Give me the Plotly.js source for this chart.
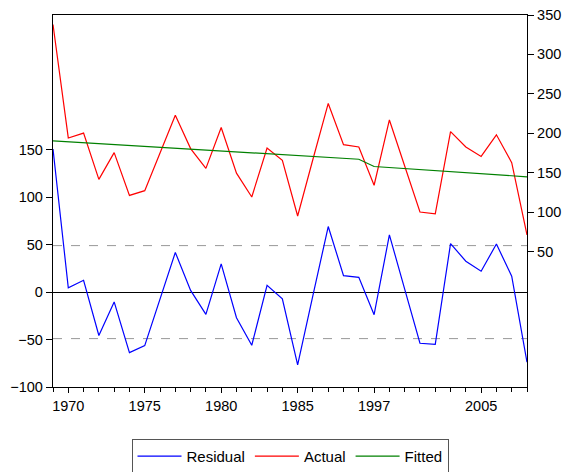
<!DOCTYPE html>
<html>
<head>
<meta charset="utf-8">
<script src="https://cdn.plot.ly/plotly-3.0.1.min.js"></script>
<style>html,body{margin:0;padding:0;background:#fff;}#chart{width:581px;height:472px;}</style>
</head>
<body>
<div id="chart"></div>
<script>
// observation index (categorical time axis with gaps)
var obs = [];
for (var i = 0; i < 32; i++) obs.push(i);
var tickPositions = [1, 6, 11, 16, 21, 28];
var tickLabels = ["1970", "1975", "1980", "1985", "1997", "2005"];

var residual = [150.8, 4.6, 12.4, -45.7, -10.3, -63.8, -56.4, -7, 41.8, 1.8,
  -23.4, 29.8, -27, -56, 7.1, -7.1, -76.6, -3.5, 69.1, 17.4,
  15.5, -23.8, 60.3, 3.2, -53.9, -55, 51, 32.6, 22, 50.7, 16.7, -73.8];

var actual = [338, 194, 200.2, 141.4, 175.4, 121.1, 127.1, 175, 222.8, 180.5,
  155.4, 207.3, 149.3, 119.1, 181.1, 165.7, 95, 167, 237.8, 185.5,
  182.5, 134, 216.8, 158.4, 100, 97.6, 202, 182.6, 170.6, 198, 162.7, 71];

var fitted = [190.3, 189.1, 188.0, 186.8, 185.6, 184.5, 183.3, 182.1, 181.0, 179.8,
  178.6, 177.5, 176.3, 175.1, 174.0, 172.8, 171.6, 170.5, 169.3, 168.1,
  167.0, 157.8, 156.5, 155.2, 153.9, 152.6, 151.3, 150.0, 148.6, 147.3, 146.0, 144.7];

var seBand = 49;

var fontFam = "Liberation Sans, Arial, sans-serif";

var traces = [
  {x: obs, y: residual, name: "Residual", type: "scatter", mode: "lines",
   line: {color: "#0000FF", width: 1.2}, yaxis: "y"},
  {x: obs, y: actual, name: "Actual", type: "scatter", mode: "lines",
   line: {color: "#FF0000", width: 1.2}, yaxis: "y2"},
  {x: obs, y: fitted, name: "Fitted", type: "scatter", mode: "lines",
   line: {color: "#008000", width: 1.2}, yaxis: "y2"}
];

var layout = {
  width: 581, height: 472,
  margin: {l: 53, r: 54, t: 15, b: 85, autoexpand: false},
  paper_bgcolor: "#fff", plot_bgcolor: "#fff",
  font: {family: fontFam, size: 14.5, color: "#000"},
  showlegend: true,
  legend: {orientation: "h", x: 0.5, xanchor: "center", yref: "container", y: 0.07, yanchor: "top",
    bordercolor: "#555", borderwidth: 1, font: {size: 15, family: fontFam},
    itemwidth: 44, traceorder: "normal"},
  xaxis: {range: [0, 31], tickmode: "array", tickvals: tickPositions, ticktext: tickLabels,
    ticks: "outside", ticklen: 5, tickcolor: "#000", showgrid: false, zeroline: false,
    showline: true, linecolor: "#000", linewidth: 1.2, mirror: true,
    minor: {tickmode: "linear", tick0: 0, dtick: 1, ticks: "outside", ticklen: 4, tickcolor: "#000", showgrid: false},
    tickfont: {size: 14.5}},
  yaxis: {range: [-100, 292], tickmode: "array", tickvals: [-100, -50, 0, 50, 100, 150],
    ticks: "outside", ticklen: 6, tickcolor: "#000", showgrid: false,
    zeroline: true, zerolinecolor: "#000", zerolinewidth: 1,
    showline: true, linecolor: "#000", linewidth: 1.2, tickfont: {size: 14.5}},
  yaxis2: {range: [-122, 350], overlaying: "y", side: "right", tickmode: "array",
    tickvals: [50, 100, 150, 200, 250, 300, 350],
    ticks: "outside", ticklen: 6, tickcolor: "#000", showgrid: false, zeroline: false,
    showline: true, linecolor: "#000", linewidth: 1.2, tickfont: {size: 14.5}},
  shapes: [
    {type: "line", xref: "paper", x0: 0, x1: 1, yref: "y", y0: seBand, y1: seBand,
     line: {color: "#999", width: 1, dash: "dash"}, layer: "below"},
    {type: "line", xref: "paper", x0: 0, x1: 1, yref: "y", y0: -seBand, y1: -seBand,
     line: {color: "#999", width: 1, dash: "dash"}, layer: "below"}
  ]
};

Plotly.newPlot("chart", traces, layout, {displayModeBar: false, staticPlot: true});
</script>
</body>
</html>
